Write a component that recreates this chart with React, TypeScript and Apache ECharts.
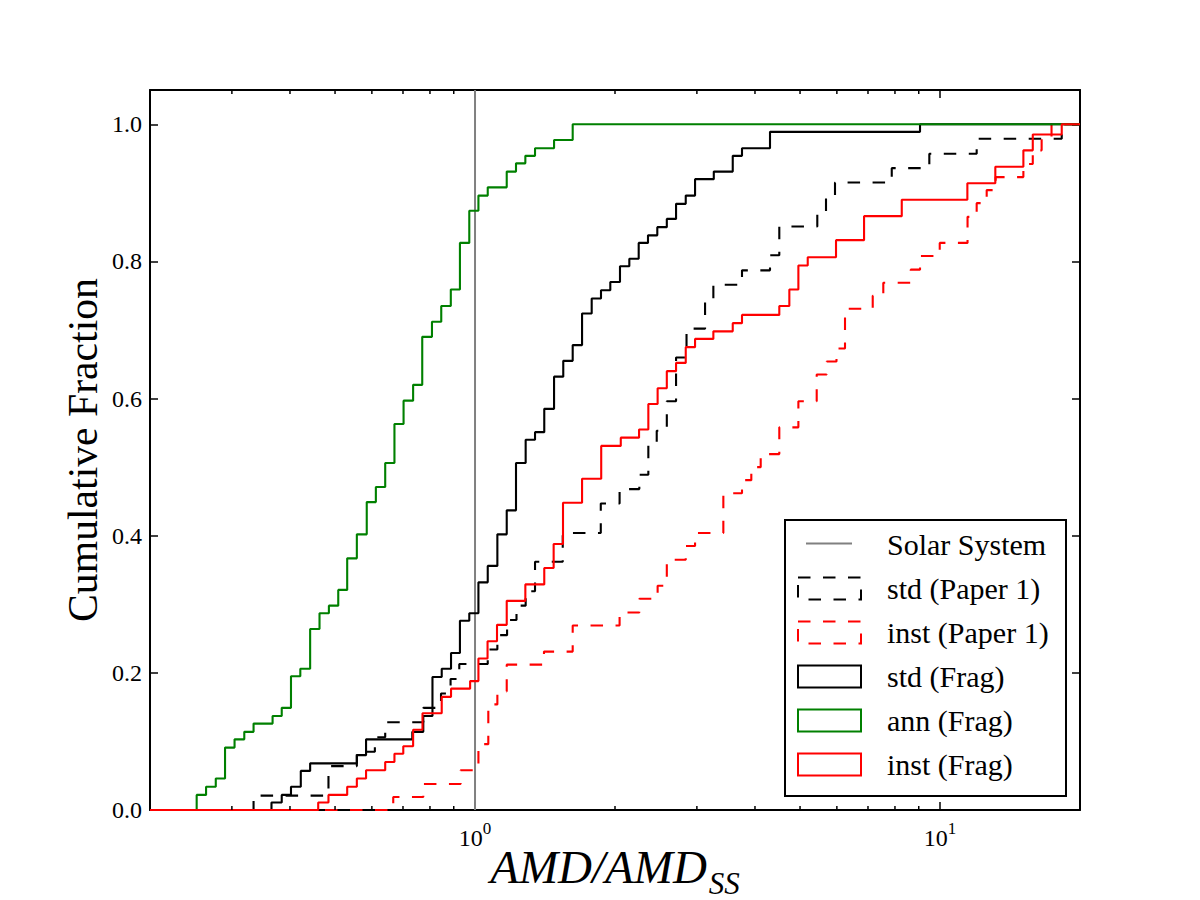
import React, { useEffect, useRef } from 'react';
import * as echarts from 'echarts';

const FONT = '"Liberation Serif", "Times New Roman", serif';

const X_MIN = 0.2;
const X_MAX = 20;
const Y_MAX = 1.05;

// Vertical reference line: the Solar System value
const solarSystemAMD = 1;

// Step positions (AMD / AMD_SS) and the cumulative fraction reached at each step
const stdPaper1X = [0.334, 0.484, 0.557, 0.609, 0.641, 0.774, 0.845, 0.886, 0.925, 1.065, 1.117, 1.172, 1.228, 1.285, 1.346, 1.544, 1.864, 2.046, 2.256, 2.359, 2.459, 2.585, 2.706, 2.85, 3.124, 3.255, 3.751, 4.309, 4.512, 5.446, 5.686, 5.945, 7.874, 9.484, 11.99, 18.27];
const stdPaper1Y = [0.021, 0.064, 0.085, 0.106, 0.128, 0.149, 0.17, 0.191, 0.213, 0.234, 0.255, 0.277, 0.298, 0.319, 0.362, 0.404, 0.447, 0.468, 0.489, 0.532, 0.553, 0.596, 0.66, 0.702, 0.745, 0.766, 0.787, 0.809, 0.851, 0.872, 0.894, 0.915, 0.936, 0.957, 0.979, 1.0];

const instPaper1X = [0.667, 0.774, 0.931, 1.017, 1.068, 1.117, 1.17, 1.407, 1.622, 2.046, 2.256, 2.47, 2.585, 2.839, 2.973, 3.42, 3.751, 3.928, 4.115, 4.512, 4.959, 5.43, 5.706, 5.989, 6.247, 7.166, 7.551, 8.65, 9.057, 9.986, 11.46, 11.99, 12.6, 13.17, 15.11, 15.83, 16.54, 17.37];
const instPaper1Y = [0.019, 0.038, 0.058, 0.096, 0.154, 0.173, 0.212, 0.231, 0.269, 0.288, 0.308, 0.327, 0.365, 0.385, 0.404, 0.462, 0.481, 0.5, 0.519, 0.558, 0.596, 0.635, 0.654, 0.673, 0.731, 0.75, 0.769, 0.788, 0.808, 0.827, 0.865, 0.885, 0.904, 0.923, 0.942, 0.962, 0.981, 1.0];

const stdFragX = [0.365, 0.384, 0.402, 0.422, 0.442, 0.557, 0.583, 0.733, 0.774, 0.81, 0.848, 0.888, 0.928, 0.972, 1.017, 1.065, 1.117, 1.17, 1.225, 1.285, 1.346, 1.409, 1.479, 1.548, 1.622, 1.699, 1.782, 1.866, 1.954, 2.05, 2.147, 2.249, 2.355, 2.466, 2.585, 2.706, 2.839, 2.973, 3.262, 3.583, 3.751, 4.309, 9.057];
const stdFragY = [0.011, 0.022, 0.034, 0.057, 0.068, 0.08, 0.103, 0.114, 0.137, 0.194, 0.206, 0.229, 0.276, 0.287, 0.332, 0.356, 0.402, 0.437, 0.506, 0.54, 0.551, 0.585, 0.632, 0.655, 0.678, 0.724, 0.746, 0.758, 0.77, 0.793, 0.804, 0.827, 0.838, 0.85, 0.862, 0.884, 0.896, 0.92, 0.931, 0.954, 0.965, 0.989, 1.0];

const annFragX = [0.252, 0.264, 0.277, 0.29, 0.304, 0.319, 0.334, 0.367, 0.384, 0.402, 0.421, 0.442, 0.463, 0.485, 0.508, 0.531, 0.557, 0.585, 0.612, 0.641, 0.671, 0.702, 0.736, 0.77, 0.808, 0.846, 0.887, 0.928, 0.972, 1.017, 1.065, 1.17, 1.225, 1.283, 1.346, 1.479, 1.622];
const annFragY = [0.022, 0.034, 0.046, 0.091, 0.103, 0.114, 0.126, 0.137, 0.149, 0.195, 0.206, 0.264, 0.287, 0.298, 0.321, 0.367, 0.402, 0.449, 0.471, 0.506, 0.563, 0.597, 0.62, 0.69, 0.712, 0.735, 0.759, 0.827, 0.874, 0.896, 0.908, 0.931, 0.943, 0.954, 0.965, 0.977, 1.0];

const instFragX = [0.46, 0.484, 0.531, 0.557, 0.583, 0.641, 0.671, 0.701, 0.736, 0.771, 0.848, 0.888, 0.976, 1.017, 1.064, 1.115, 1.17, 1.283, 1.409, 1.476, 1.546, 1.699, 1.868, 2.058, 2.253, 2.359, 2.47, 2.585, 2.706, 2.839, 2.973, 3.255, 3.583, 3.751, 4.512, 4.742, 4.959, 5.194, 5.975, 6.865, 8.274, 11.45, 13.15, 15.11, 15.83, 18.27];
const instFragY = [0.011, 0.022, 0.034, 0.046, 0.058, 0.07, 0.082, 0.093, 0.117, 0.141, 0.165, 0.177, 0.188, 0.221, 0.246, 0.27, 0.305, 0.329, 0.353, 0.388, 0.448, 0.483, 0.531, 0.543, 0.555, 0.592, 0.615, 0.64, 0.652, 0.675, 0.687, 0.698, 0.71, 0.722, 0.735, 0.759, 0.794, 0.806, 0.831, 0.866, 0.89, 0.914, 0.938, 0.962, 0.985, 1.0];

// Minor ticks of the logarithmic x axis
const minorTickValues = [0.3, 0.4, 0.5, 0.6, 0.7, 0.8, 0.9, 2, 3, 4, 5, 6, 7, 8, 9];

const DASH = [12.5, 12.5];

type Entry = { name: string; xs: number[]; ys: number[]; color: string; dashed: boolean };

const curves: Entry[] = [
  { name: 'std (Paper 1)', xs: stdPaper1X, ys: stdPaper1Y, color: '#000000', dashed: true },
  { name: 'inst (Paper 1)', xs: instPaper1X, ys: instPaper1Y, color: '#ff0000', dashed: true },
  { name: 'std (Frag)', xs: stdFragX, ys: stdFragY, color: '#000000', dashed: false },
  { name: 'ann (Frag)', xs: annFragX, ys: annFragY, color: '#008000', dashed: false },
  { name: 'inst (Frag)', xs: instFragX, ys: instFragY, color: '#ff0000', dashed: false },
];

function stepData(xs: number[], ys: number[]) {
  const pts: number[][] = [[X_MIN, 0]];
  xs.forEach((x, i) => pts.push([x, ys[i]]));
  pts.push([X_MAX, ys[ys.length - 1]]);
  return pts;
}

function xTickLabel(v: number) {
  const e = Math.log10(v);
  const r = Math.round(e);
  if (Math.abs(e - r) < 1e-6) return `{b|10}{p|${r}}`;
  return '';
}

function buildLegend() {
  const left = 784;
  const top = 519;
  const rowH = 44;
  const firstRow = 24.5;
  const children: any[] = [
    {
      type: 'rect',
      shape: { x: 0, y: 0, width: 281, height: 276 },
      style: { fill: '#ffffff', stroke: '#000000', lineWidth: 2 },
    },
    {
      type: 'line',
      shape: { x1: 21, y1: firstRow - 1, x2: 67, y2: firstRow - 1 },
      style: { stroke: '#808080', lineWidth: 2 },
    },
    {
      type: 'text',
      x: 102,
      y: firstRow,
      style: { text: 'Solar System', font: `30px ${FONT}`, fill: '#000', verticalAlign: 'middle', align: 'left' },
    },
  ];
  curves.forEach((c, i) => {
    const cy = firstRow + rowH * (i + 1);
    children.push({
      type: 'rect',
      shape: { x: 13, y: cy - 11, width: 63, height: 22 },
      style: { fill: 'none', stroke: c.color, lineWidth: 2, lineDash: c.dashed ? DASH : null },
    });
    children.push({
      type: 'text',
      x: 102,
      y: cy,
      style: { text: c.name, font: `30px ${FONT}`, fill: '#000', verticalAlign: 'middle', align: 'left' },
    });
  });
  return { type: 'group', left, top, z: 100, children };
}

export default function App() {
  const ref = useRef<HTMLDivElement>(null);

  useEffect(() => {
    if (!ref.current) return;
    const chart = echarts.init(ref.current, null, { renderer: 'svg' });

    const axisLine = { show: true, onZero: false, lineStyle: { color: '#000', width: 2 } };
    const tick = { show: true, inside: true, length: 8, lineStyle: { color: '#000', width: 1.5 } };

    const option: any = {
      animation: false,
      backgroundColor: '#ffffff',
      grid: { left: 150, right: 120, top: 90, bottom: 90, containLabel: false, outerBoundsMode: 'none' },
      xAxis: [
        {
          type: 'log',
          logBase: 10,
          min: X_MIN,
          max: X_MAX,
          position: 'bottom',
          axisLine,
          axisTick: tick,
          splitLine: { show: false },
          minorTick: { show: false },
          axisLabel: {
            margin: 10,
            formatter: xTickLabel,
            rich: {
              b: { fontFamily: FONT, fontSize: 24, color: '#000', lineHeight: 26, verticalAlign: 'top', padding: [6, 0, 0, 0] },
              p: { fontFamily: FONT, fontSize: 17, color: '#000', lineHeight: 17, verticalAlign: 'top' },
            },
          },
          name: '{m|AMD/AMD}{s|SS}',
          nameLocation: 'middle',
          nameGap: 33,
          nameMoveOverlap: false,
          nameTextStyle: {
            rich: {
              m: { fontFamily: FONT, fontStyle: 'italic', fontSize: 47, lineHeight: 50, color: '#000', verticalAlign: 'top' },
              s: { fontFamily: FONT, fontStyle: 'italic', fontSize: 31, lineHeight: 30, color: '#000', verticalAlign: 'top', padding: [25, 0, 0, 2] },
            },
          },
        },
        {
          type: 'log',
          logBase: 10,
          min: X_MIN,
          max: X_MAX,
          position: 'top',
          axisLine,
          axisTick: tick,
          splitLine: { show: false },
          axisLabel: { show: false },
        },
      ],
      yAxis: [
        {
          type: 'value',
          min: 0,
          max: Y_MAX,
          interval: 0.2,
          position: 'left',
          axisLine,
          axisTick: tick,
          splitLine: { show: false },
          axisLabel: {
            margin: 8,
            fontFamily: FONT,
            fontSize: 24,
            color: '#000',
            showMaxLabel: false,
            formatter: (v: number) => (v > 1.0001 ? '' : v.toFixed(1)),
          },
          name: 'Cumulative Fraction',
          nameLocation: 'middle',
          nameGap: 46,
          nameMoveOverlap: false,
          nameTextStyle: { fontFamily: FONT, fontSize: 41.7, color: '#000' },
        },
        {
          type: 'value',
          min: 0,
          max: Y_MAX,
          interval: 0.2,
          position: 'right',
          axisLine,
          axisTick: tick,
          splitLine: { show: false },
          axisLabel: { show: false },
        },
      ],
      series: [
        {
          name: 'Solar System',
          type: 'line',
          data: [
            [solarSystemAMD, 0],
            [solarSystemAMD, Y_MAX],
          ],
          showSymbol: false,
          symbol: 'none',
          lineStyle: { color: '#808080', width: 2 },
          silent: true,
        },
        ...curves.map((c) => ({
          name: c.name,
          type: 'line',
          step: 'end',
          data: stepData(c.xs, c.ys),
          showSymbol: false,
          symbol: 'none',
          lineStyle: { color: c.color, width: 2.1, type: c.dashed ? DASH : 'solid' },
          silent: true,
        })),
        {
          name: 'minor ticks',
          type: 'custom',
          coordinateSystem: 'cartesian2d',
          data: minorTickValues.map((v) => [v, 0]),
          clip: false,
          silent: true,
          z: 10,
          renderItem: (_params: any, api: any) => {
            const v = api.value(0);
            const b = api.coord([v, 0]);
            const t = api.coord([v, Y_MAX]);
            const style = { stroke: '#000', lineWidth: 1.5 };
            return {
              type: 'group',
              children: [
                { type: 'line', shape: { x1: b[0], y1: b[1], x2: b[0], y2: b[1] - 4 }, style },
                { type: 'line', shape: { x1: t[0], y1: t[1], x2: t[0], y2: t[1] + 4 }, style },
              ],
            };
          },
        },
      ],
      graphic: [buildLegend()],
    };

    chart.setOption(option);
    return () => chart.dispose();
  }, []);

  return (
    <div
      ref={ref}
      style={{ position: 'absolute', left: 0, top: 0, width: 1200, height: 900, background: '#ffffff' }}
    />
  );
}
